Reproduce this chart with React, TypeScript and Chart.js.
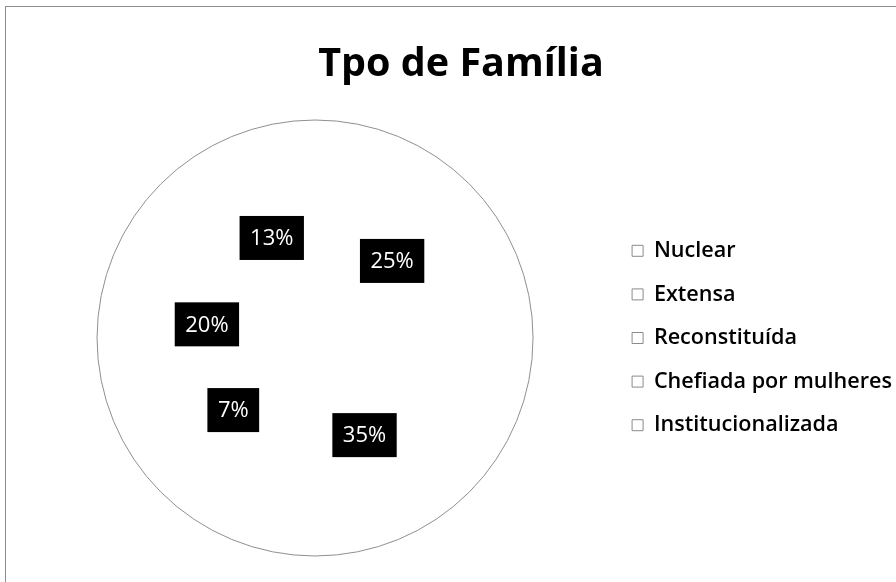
import React, { useEffect, useRef } from "react";
import { Chart, registerables } from "chart.js";

Chart.register(...registerables);

const TITLE = "Tpo de Família";
const CATEGORIES = ["Nuclear", "Extensa", "Reconstituída", "Chefiada por mulheres", "Institucionalizada"];
const VALUES = [25, 35, 7, 20, 13];
const SLICE_COLORS = ["#ffffff", "#ffffff", "#ffffff", "#ffffff", "#ffffff"];

const FONT = "'Open Sans', 'Noto Sans', sans-serif";

const outlinePlugin = {
  id: "pieOutline",
  afterDatasetsDraw(chart: any) {
    const meta = chart.getDatasetMeta(0);
    const arc = meta.data[0];
    if (!arc) return;
    const { x, y, outerRadius } = arc.getProps(["x", "y", "outerRadius"], true);
    const ctx = chart.ctx;
    ctx.save();
    ctx.beginPath();
    ctx.arc(x, y, outerRadius, 0, Math.PI * 2);
    ctx.strokeStyle = "#8f8f8f";
    ctx.lineWidth = 1;
    ctx.stroke();
    ctx.restore();
  },
};

const boxLabelPlugin = {
  id: "boxLabels",
  afterDatasetsDraw(chart: any) {
    const meta = chart.getDatasetMeta(0);
    const data = chart.data.datasets[0].data as number[];
    const total = data.reduce((a, b) => a + b, 0);
    const ctx = chart.ctx;
    ctx.save();
    ctx.font = `400 22px ${FONT}`;
    ctx.textAlign = "center";
    ctx.textBaseline = "middle";
    meta.data.forEach((arc: any, i: number) => {
      const { x, y, startAngle, endAngle, outerRadius } = arc.getProps(
        ["x", "y", "startAngle", "endAngle", "outerRadius"],
        true
      );
      const mid = (startAngle + endAngle) / 2;
      const r = outerRadius * 0.5;
      const cx = x + Math.cos(mid) * r;
      const cy = y + Math.sin(mid) * r;
      const text = Math.round((data[i] / total) * 100) + "%";
      const w = ctx.measureText(text).width + 21;
      const h = 44;
      ctx.fillStyle = "#000000";
      ctx.fillRect(cx - w / 2, cy - h / 2, w, h);
      ctx.fillStyle = "#ffffff";
      ctx.fillText(text, cx, cy + 1);
    });
    ctx.restore();
  },
};

export default function App() {
  const canvasRef = useRef<HTMLCanvasElement | null>(null);

  useEffect(() => {
    if (!canvasRef.current) return;
    const chart = new Chart(canvasRef.current, {
      type: "pie",
      data: {
        labels: CATEGORIES,
        datasets: [
          {
            data: VALUES,
            backgroundColor: SLICE_COLORS,
            borderWidth: 0,
            hoverOffset: 0,
          },
        ],
      },
      options: {
        responsive: true,
        maintainAspectRatio: false,
        animation: false,
        events: [],
        layout: { padding: { top: 0, bottom: 26, left: 20, right: -6 } },
        plugins: {
          tooltip: { enabled: false },
          title: {
            display: true,
            text: TITLE,
            color: "#000000",
            font: { family: FONT, size: 39.5, weight: "bold", lineHeight: 1.2 },
            padding: { top: 41, bottom: 31.6 },
          },
          legend: {
            display: true,
            position: "right",
            fullSize: false,
            align: "center",
            labels: {
              color: "#000000",
              font: { family: FONT, size: 21.6, weight: "600" },
              boxWidth: 11,
              boxHeight: 11,
              padding: 22,
              generateLabels: (chart: any) =>
                chart.data.labels.map((l: string, i: number) => ({
                  text: l,
                  fillStyle: "#ffffff",
                  strokeStyle: "#8a8a8a",
                  lineWidth: 1,
                  hidden: false,
                  index: i,
                  fontColor: "#000000",
                })),
            },
          },
        },
      },
      plugins: [outlinePlugin, boxLabelPlugin],
    });
    return () => chart.destroy();
  }, []);

  return (
    <div
      style={{
        position: "fixed",
        left: 0,
        top: 0,
        width: 896,
        height: 582,
        background: "#ffffff",
        overflow: "hidden",
      }}
    >
      <div
        style={{
          position: "absolute",
          left: 5,
          top: 6,
          width: 900,
          height: 600,
          border: "1px solid #8c8c8c",
          pointerEvents: "none",
        }}
      />
      <canvas ref={canvasRef} style={{ position: "absolute", left: 0, top: 0 }} />
    </div>
  );
}
